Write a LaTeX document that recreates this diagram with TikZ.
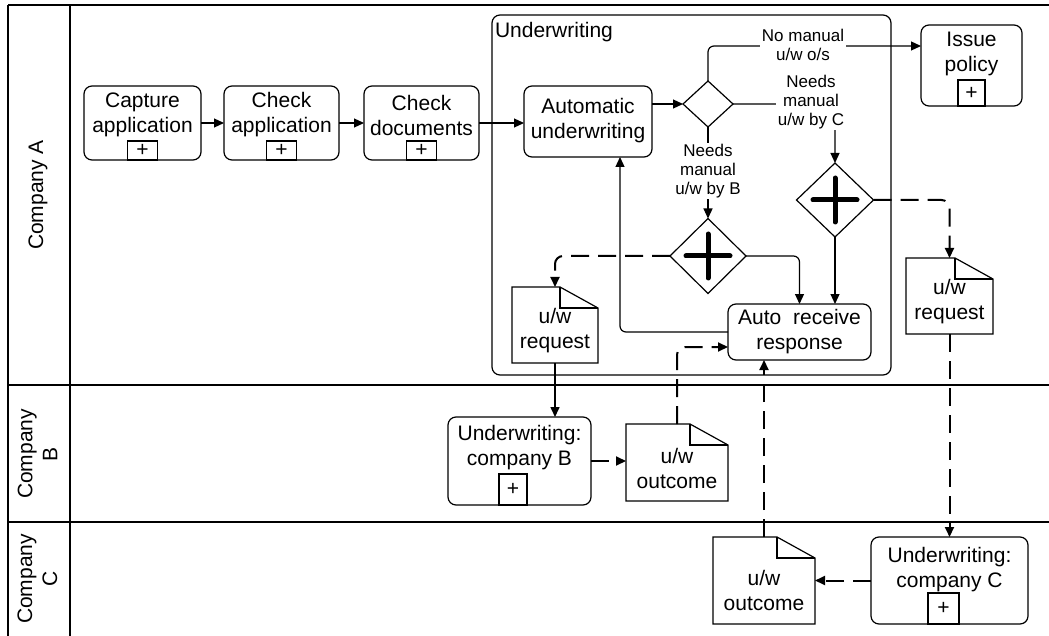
\documentclass[tikz,border=0pt]{standalone}
\usepackage{fontspec}
\setmainfont{Liberation Sans}
\usetikzlibrary{arrows.meta,shapes.geometric}

\newcommand\docoutline[1]{%
  \draw[doc line] (#1.north west) -- ([xshift=-38pt]#1.north east) -- ([yshift=-21pt]#1.north east) -- (#1.south east) -- (#1.south west) -- cycle;
  \draw[doc line] ([xshift=-38pt]#1.north east) -- ([xshift=-38pt,yshift=-21pt]#1.north east) -- ([yshift=-21pt]#1.north east);
}

\begin{document}
\begin{tikzpicture}[x=1pt,y=-1pt,
  every node/.style={inner sep=0pt, outer sep=0pt},
  txt/.style={font=\fontsize{21}{25}\selectfont, align=center},
  lbl/.style={font=\fontsize{17}{19}\selectfont, align=center, fill=white, inner sep=1.5pt},
  task/.style={draw, rounded corners=8pt, line width=1.2pt},
  plusbox/.style={draw, line width=1.1pt, font=\fontsize{21}{21}\selectfont},
  gw/.style={draw, diamond, line width=1.2pt, fill=white},
  flow/.style={line width=1.2pt, -{Triangle[length=10pt,width=9pt]}},
  msg/.style={line width=2pt, dash pattern=on 18pt off 9pt, -{Triangle[length=10pt,width=9pt]}},
  solidmsg/.style={line width=1.6pt, -{Triangle[length=10pt,width=9pt]}},
  lane/.style={line width=1.6pt},
  doc line/.style={line width=1.2pt},
  cross/.style={line width=5pt, line cap=round}
]
\useasboundingbox (0,0) rectangle (1049,636);

% pool and lanes
\draw[lane] (8,5) -- (1049,5);
\draw[lane] (8,5) -- (8,636);
\draw[lane] (70,5) -- (70,636);
\draw[lane] (8,385) -- (1049,385);
\draw[lane] (8,522) -- (1049,522);
\node[txt, rotate=90] (laneA) at (38,195) {Company A};
\node[txt, rotate=90] (laneB) at (37.5,454) {Company\\B};
\node[txt, rotate=90] (laneC) at (37.5,579) {Company\\C};

% underwriting group
\node[task, minimum width=399pt, minimum height=360pt] (grp) at (691.5,195) {};
\node[txt, anchor=base west] (grpT) at (495,38) {Underwriting};

% tasks
\node[task, minimum width=117pt, minimum height=74pt] (cap) at (142.5,123) {};
\node[txt] (capT) at (142.5,115) {Capture\\application};
\node[plusbox, minimum width=30pt, minimum height=19pt, anchor=south] (capP) at (cap.south) {+};

\node[task, minimum width=115pt, minimum height=74pt] (chk) at (281.5,123) {};
\node[txt] (chkT) at (281.5,115) {Check\\application};
\node[plusbox, minimum width=30pt, minimum height=19pt, anchor=south] (chkP) at (chk.south) {+};

\node[task, minimum width=115pt, minimum height=74pt] (cdoc) at (421.5,123) {};
\node[txt] (cdocT) at (421.5,115) {Check\\documents};
\node[plusbox, minimum width=30pt, minimum height=19pt, anchor=south] (cdocP) at (cdoc.south) {+};

\node[task, minimum width=128pt, minimum height=71pt] (auw) at (588,121.5) {};
\node[txt] (auwT) at (588,120.5) {Automatic\\underwriting};

\node[task, minimum width=101pt, minimum height=81pt] (iss) at (971.5,65.5) {};
\node[txt] (issT) at (971.5,54) {Issue\\policy};
\node[plusbox, minimum width=27pt, minimum height=26pt, anchor=south] (issP) at (iss.south) {+};

\node[task, minimum width=143pt, minimum height=56pt] (ar) at (799.5,332) {};
\node[txt] (arT) at (799.5,332) {Auto\hspace{6pt} receive\\response};

\node[task, minimum width=143pt, minimum height=88pt] (ubB) at (519.5,461) {};
\node[txt] (ubBT) at (519.5,447.5) {Underwriting:\\company B};
\node[plusbox, minimum width=28pt, minimum height=31pt, anchor=south] (ubBP) at (513,505) {+};

\node[task, minimum width=157pt, minimum height=87pt] (ubC) at (949.5,580.5) {};
\node[txt] (ubCT) at (949.5,569.5) {Underwriting:\\company C};
\node[plusbox, minimum width=31pt, minimum height=31pt, anchor=south] (ubCP) at (943.5,624) {+};

% gateways
\node[gw, minimum width=50pt, minimum height=46pt] (gx) at (708,104) {};
\node[gw, minimum width=76pt, minimum height=75pt] (gB) at (708,256) {};
\node[gw, minimum width=77pt, minimum height=74pt] (gC) at (835,200) {};
\draw[cross] ([xshift=-22pt]gB.center) -- ([xshift=22pt]gB.center);
\draw[cross] ([yshift=-22pt]gB.center) -- ([yshift=22pt]gB.center);
\draw[cross] ([xshift=-22pt]gC.center) -- ([xshift=22pt]gC.center);
\draw[cross] ([yshift=-22pt]gC.center) -- ([yshift=22pt]gC.center);

% documents
\node[minimum width=86pt, minimum height=76pt] (reqB) at (555,325) {};
\docoutline{reqB}
\node[txt] (reqBT) at (555,330.5) {u/w\\request};

\node[minimum width=87pt, minimum height=76pt] (reqC) at (949.5,296) {};
\docoutline{reqC}
\node[txt] (reqCT) at (949.5,302) {u/w\\request};

\node[minimum width=102pt, minimum height=77pt] (outB) at (677,462.5) {};
\docoutline{outB}
\node[txt] (outBT) at (677,468.5) {u/w\\outcome};

\node[minimum width=102pt, minimum height=87pt] (outC) at (764,580.5) {};
\docoutline{outC}
\node[txt] (outCT) at (764,590.5) {u/w\\outcome};

% sequence flows
\draw[flow] (cap.east) -- (chk.west);
\draw[flow] (chk.east) -- (cdoc.west);
\draw[flow] (cdoc.east) -- (cdoc.east -| auw.west);
\draw[flow] (gx.west -| auw.east) -- (gx.west);
\draw[flow, rounded corners=6pt] (gx.north) |- ([yshift=19.5pt]iss.west);
\draw[flow, rounded corners=6pt] (gx.east) -| (gC.north);
\draw[flow] (gx.south) -- (gB.north);
\draw[flow, rounded corners=6pt] (gB.east) -| (ar.north);
\draw[flow] (gC.south) -- (gC.south |- ar.north);
\draw[flow, rounded corners=6pt] (ar.west) -| ([xshift=32pt]auw.south);

% message flows
\draw[msg, rounded corners=8pt] (gB.west) -| (reqB.north);
\draw[solidmsg] (reqB.south) -- (reqB.south |- ubB.north);
\draw[msg] (ubB.east) -- (ubB.east -| outB.west);
\draw[msg, rounded corners=8pt] (outB.north) |- ([yshift=-15pt]ar.west);
\draw[msg, rounded corners=8pt] (gC.east) -| (reqC.north);
\draw[msg] (reqC.south) -- (reqC.south |- ubC.north);
\draw[msg] (ubC.west) -- (ubC.west -| outC.east);
\draw[msg] (outC.north) -- (outC.north |- ar.south);

% flow labels
\node[lbl] (lblNo) at (803,45) {No manual\\u/w o/s};
\node[lbl] (lblC) at (811,102) {Needs\\manual\\u/w by C};
\node[lbl] (lblB) at (708,171) {Needs\\manual\\u/w by B};
\end{tikzpicture}
\end{document}
